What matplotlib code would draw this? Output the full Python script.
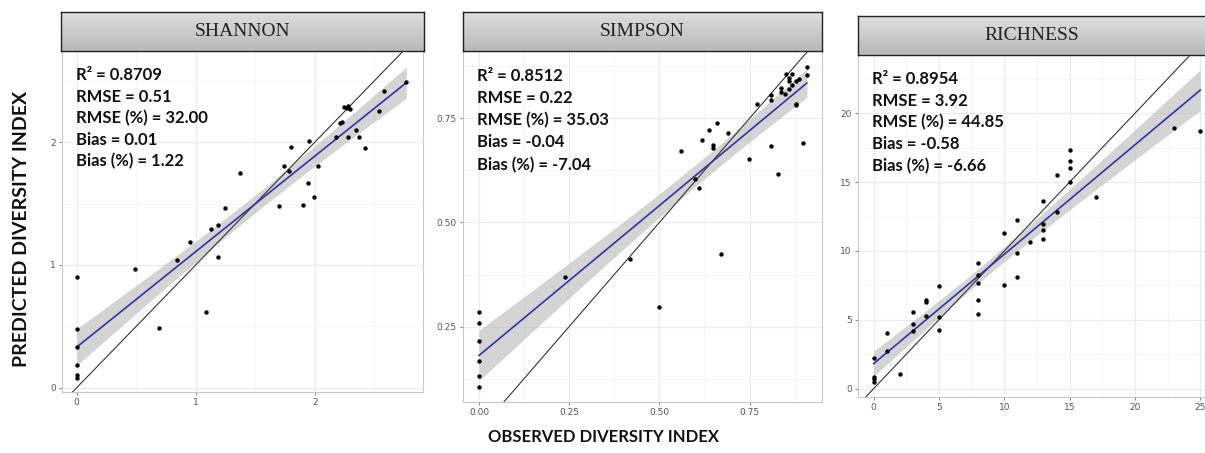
import matplotlib
matplotlib.use("Agg")
import matplotlib.pyplot as plt
import numpy as np

# ---- data ----
shannon_obs = [0, 0, 0, 0, 0, 0, 0.49, 0.69, 0.84, 0.95, 1.09, 1.13, 1.19, 1.19, 1.25,
               1.37, 1.70, 1.74, 1.78, 1.80, 1.90, 1.94, 1.95, 1.99, 2.03, 2.18, 2.21,
               2.23, 2.25, 2.27, 2.28, 2.30, 2.28, 2.35, 2.37, 2.42, 2.54, 2.58, 2.77]
shannon_pred = [0.905, 0.478, 0.334, 0.185, 0.103, 0.076, 0.965, 0.489, 1.04, 1.185, 0.62,
                1.29, 1.326, 1.063, 1.467, 1.747, 1.484, 1.807, 1.766, 1.962, 1.486, 1.671,
                2.008, 1.557, 1.81, 2.046, 2.155, 2.166, 2.285, 2.277, 2.296, 2.269, 2.046,
                2.10, 2.04, 1.95, 2.258, 2.418, 2.489]

simpson_obs = [0, 0, 0, 0, 0, 0, 0.238, 0.419, 0.499, 0.559, 0.599, 0.609, 0.619, 0.639,
               0.650, 0.650, 0.659, 0.670, 0.689, 0.749, 0.770, 0.809, 0.809, 0.809, 0.830,
               0.838, 0.838, 0.848, 0.850, 0.859, 0.859, 0.859, 0.869, 0.869, 0.878, 0.878,
               0.878, 0.888, 0.899, 0.909, 0.909]
simpson_pred = [0.284, 0.258, 0.216, 0.168, 0.132, 0.106, 0.368, 0.412, 0.296, 0.672, 0.605,
                0.583, 0.697, 0.723, 0.686, 0.679, 0.740, 0.424, 0.714, 0.653, 0.784, 0.806,
                0.794, 0.684, 0.616, 0.824, 0.813, 0.808, 0.856, 0.848, 0.840, 0.820, 0.856,
                0.829, 0.840, 0.785, 0.781, 0.845, 0.692, 0.874, 0.854]

richness_obs = [0, 0, 0, 0, 1, 1, 2, 3, 3, 3, 4, 4, 4, 5, 5, 5, 8, 8, 8, 8, 8, 10, 10, 11,
                11, 11, 12, 13, 13, 13, 13, 14, 14, 15, 15, 15, 15, 17, 23, 25]
richness_pred = [2.25, 0.85, 0.73, 0.48, 4.07, 2.7, 1.04, 5.53, 4.68, 4.17, 6.42, 6.28, 5.31,
                 7.44, 5.21, 4.24, 9.11, 8.22, 7.64, 6.42, 5.41, 11.32, 7.54, 12.24, 9.84,
                 8.12, 10.64, 13.65, 11.95, 11.52, 10.84, 15.5, 12.85, 17.33, 16.56, 16.0,
                 14.98, 13.94, 18.96, 18.72]

titles = ["SHANNON", "SIMPSON", "RICHNESS"]
stats = [
    ["R\u00b2 = 0.8709", "RMSE = 0.51", "RMSE (%) = 32.00", "Bias = 0.01", "Bias (%) = 1.22"],
    ["R\u00b2 = 0.8512", "RMSE = 0.22", "RMSE (%) = 35.03", "Bias = -0.04", "Bias (%) = -7.04"],
    ["R\u00b2 = 0.8954", "RMSE = 3.92", "RMSE (%) = 44.85", "Bias = -0.58", "Bias (%) = -6.66"],
]
xticks = [[0, 1, 2], [0, 0.25, 0.5, 0.75], [0, 5, 10, 15, 20, 25]]
yticks = [[0, 1, 2], [0.25, 0.5, 0.75], [0, 5, 10, 15, 20]]
tickfmt = ["{:g}", "{:.2f}", "{:g}"]

W, H = 1205, 453


def px_axes(fig, left, top, right, bottom):
    return fig.add_axes([left / W, 1 - bottom / H, (right - left) / W, (bottom - top) / H])


def t975(df):
    z = 1.959964
    return z + (z**3 + z) / (4 * df) + (5 * z**5 + 16 * z**3 + 3 * z) / (96 * df**2)


def plot_panel(fig, box, hbox, lims, obs, pred, title, lines, xt, yt, fmt, step):
    x = np.array(obs, dtype=float)
    y = np.array(pred, dtype=float)
    ax = px_axes(fig, *box)

    # grid like ggplot
    ax.set_xticks(xt)
    ax.set_yticks(yt)
    ax.set_xticks(np.arange(xt[0] - step / 2, lims[1], step), minor=True)
    ax.set_yticks(np.arange(yt[0] - step / 2, lims[3], step), minor=True)
    ax.grid(which="major", color="#ebebeb", lw=0.8)
    ax.grid(which="minor", color="#f4f4f4", lw=0.6)
    ax.set_axisbelow(True)
    ax.set_xticklabels([fmt.format(v) for v in xt])
    ax.set_yticklabels([fmt.format(v) for v in yt])
    ax.tick_params(which="major", length=2.5, color="#888888", labelsize=6.5,
                   labelcolor="#555555", pad=2)
    ax.tick_params(which="minor", length=0)
    for s in ax.spines.values():
        s.set_color("#c8c8c8")
        s.set_linewidth(0.8)

    # linear fit with 95% band
    n = len(x)
    b, a = np.polyfit(x, y, 1)
    res = y - (a + b * x)
    s = np.sqrt(np.sum(res**2) / (n - 2))
    xs = np.linspace(x.min(), x.max(), 100)
    se = s * np.sqrt(1 / n + (xs - x.mean())**2 / np.sum((x - x.mean())**2))
    fit = a + b * xs
    ax.fill_between(xs, fit - t975(n - 2) * se, fit + t975(n - 2) * se,
                    color="#bdbdbd", alpha=0.65, lw=0)
    ax.axline((0, 0), slope=1, color="#333333", lw=0.8)
    ax.plot(xs, fit, color="#3232a6", lw=1.2)
    ax.scatter(x, y, s=10, color="black", zorder=3, lw=0)
    ax.set_xlim(lims[0], lims[1])
    ax.set_ylim(lims[2], lims[3])

    for i, t in enumerate(lines):
        ax.text(0.04, 0.93 - i * 0.0635, t, transform=ax.transAxes, fontsize=12,
                fontweight="bold", family="Lato", color="#111111", va="center")

    # strip header
    hx = px_axes(fig, *hbox)
    grad = np.linspace(0, 1, 50).reshape(-1, 1)
    hx.imshow(grad, aspect="auto", cmap=plt.matplotlib.colors.LinearSegmentedColormap.from_list(
        "hdr", ["#dedede", "#b9b9b9"]), extent=[0, 1, 0, 1])
    hx.set_xticks([])
    hx.set_yticks([])
    for sp in hx.spines.values():
        sp.set_color("#222222")
        sp.set_linewidth(1.0)
    hx.text(0.5, 0.5, title, ha="center", va="center", fontsize=14,
            family="Liberation Serif", color="#222222")


fig = plt.figure(figsize=(W / 100, H / 100), dpi=100)

plot_panel(fig, (62, 51, 423, 392), (61, 12, 424, 51), (-0.1235, 2.91, -0.035, 2.744),
           shannon_obs, shannon_pred, titles[0], stats[0], xticks[0], yticks[0], tickfmt[0], 1)
plot_panel(fig, (463, 51, 822, 402), (463, 12, 822, 51), (-0.0444, 0.951, 0.0688, 0.9118),
           simpson_obs, simpson_pred, titles[1], stats[1], xticks[1], yticks[1], tickfmt[1], 0.25)
plot_panel(fig, (858, 55, 1205, 397), (858, 16, 1206, 55), (-1.2, 25.37, -0.61, 24.24),
           richness_obs, richness_pred, titles[2], stats[2], xticks[2], yticks[2], tickfmt[2], 5)

fig.text(22 / W, 1 - 229 / H, "PREDICTED DIVERSITY INDEX", rotation=90, ha="center",
         va="center", fontsize=14, fontweight="bold", family="Lato", color="#111111")
fig.text(604 / W, 1 - 437 / H, "OBSERVED DIVERSITY INDEX", ha="center", va="center",
         fontsize=12, fontweight="bold", family="Lato", color="#111111")

fig.savefig("out.png", dpi=100)
